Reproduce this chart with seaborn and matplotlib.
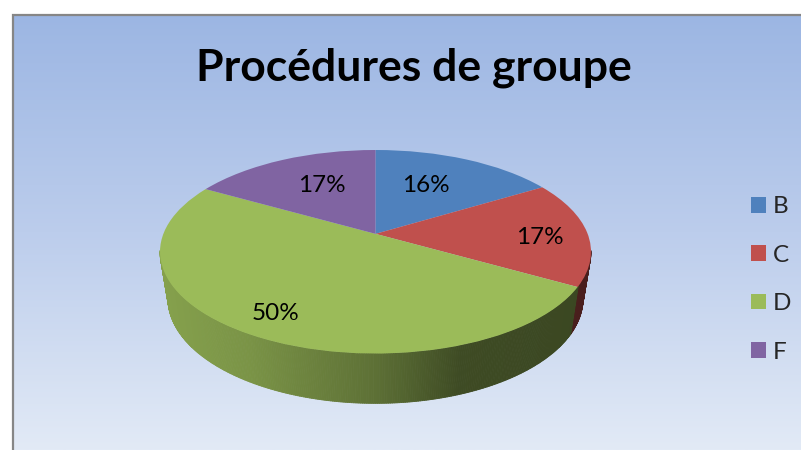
import numpy as np
import matplotlib
matplotlib.use('Agg')
import matplotlib.pyplot as plt
import seaborn as sns
from matplotlib.collections import PolyCollection
from matplotlib.colors import LinearSegmentedColormap, to_rgb
from matplotlib.patches import Patch
from matplotlib.transforms import Transform

title = 'Procédures de groupe'
categories = ['B', 'C', 'D', 'F']
values = [16.4, 16.8, 50.0, 16.8]
colors = ['#4f81bd', '#c0504d', '#9bbb59', '#8064a2']

W, H = 801, 450
TILT = 0.176  # la pointe du camembert est decalee vers le haut

sns.set_theme(style='white')
plt.rcParams['font.family'] = ['Lato', 'DejaVu Sans']
palette = sns.color_palette(colors)


def project(u, v):
    den = 1 + TILT * v
    return u * np.sqrt(1 - TILT ** 2) / den, (v + TILT) / den


class Perspective(Transform):
    input_dims = 2
    output_dims = 2

    def transform_non_affine(self, values):
        values = np.asarray(values, dtype=float)
        x, y = project(values[:, 0], values[:, 1])
        return np.column_stack([x, y])


fig = plt.figure(figsize=(W / 100, H / 100), dpi=100, facecolor='white')

# Fond en degrade + cadre
bg = fig.add_axes([0, 0, 1, 1], zorder=0)
bg.set_xlim(0, W)
bg.set_ylim(H, 0)
bg.axis('off')
cmap = LinearSegmentedColormap.from_list('fond', ['#9cb6e3', '#bccdec', '#e2eaf6'])
bg.imshow(np.linspace(0, 1, 256).reshape(-1, 1), cmap=cmap, aspect='auto',
          extent=(14, W, H, 15), zorder=0)
bg.set_xlim(0, W)
bg.set_ylim(H, 0)
bg.plot([13, 13, W], [H, 14.5, 14.5], color='#868686', lw=1.6, zorder=1,
        solid_joinstyle='miter')

# Camembert
ax = fig.add_axes([160 / W, 1 - 353.5 / H, 431 / W, 203.5 / H], zorder=1)
wedges, _ = ax.pie(values, colors=palette, startangle=90, counterclock=False,
                   wedgeprops=dict(linewidth=0))
ax.set_aspect('auto')
ax.set_xlim(-1, 1)
ax.set_ylim(-1, 1)
ax.axis('off')
ax.patch.set_alpha(0)

persp = Perspective()
for w in wedges:
    w.set_transform(persp + ax.transData)
    w.set_clip_on(False)
    w.set_zorder(3)

# Tranche du camembert
shade_x = [-1, -0.6, 0, 0.4, 1]
shade_f = [0.86, 0.79, 0.60, 0.40, 0.38]
for w, col in zip(wedges, palette):
    th = np.radians(np.arange(w.theta1, w.theta2 + 0.5, 0.5))
    tx, ty = project(np.cos(th), np.sin(th))
    quads, faces = [], []
    for i in range(len(th) - 1):
        if ty[i] > 0.01 and ty[i + 1] > 0.01:
            continue
        bx = tx[i:i + 2] * 208 / 216
        by = ty[i:i + 2] * 105 / 102 - 47 / 102
        quads.append([(tx[i], ty[i]), (tx[i + 1], ty[i + 1]),
                      (bx[1], by[1]), (bx[0], by[0])])
        f = np.interp(tx[i], shade_x, shade_f)
        faces.append(tuple(c * f for c in to_rgb(col)))
    if quads:
        ax.add_collection(PolyCollection(quads, facecolors=faces, edgecolors=faces,
                                         linewidths=0.6, clip_on=False, zorder=2))

# Etiquettes
label_pos = [(425.5, 186), (540, 237), (276, 314), (322, 186)]
for v, (x, y) in zip(values, label_pos):
    ax.text(x, y, f'{v:.0f}%', transform=bg.transData, ha='center', va='center',
            fontsize=17.5, color='black', zorder=5, clip_on=False)

bg.text(414, 67.5, title, ha='center', va='center', fontsize=32, fontweight='bold',
        color='black', zorder=5)

handles = [Patch(facecolor=c, edgecolor='none', label=n) for c, n in zip(palette, categories)]
bg.legend(handles=handles, loc='center left', bbox_to_anchor=(751, 279.5),
          bbox_transform=bg.transData, frameon=False, fontsize=17.5, handlelength=0.62,
          handleheight=0.62, handletextpad=0.28, labelspacing=1.125,
          borderpad=0, borderaxespad=0)

fig.savefig('out.png', dpi=100)
